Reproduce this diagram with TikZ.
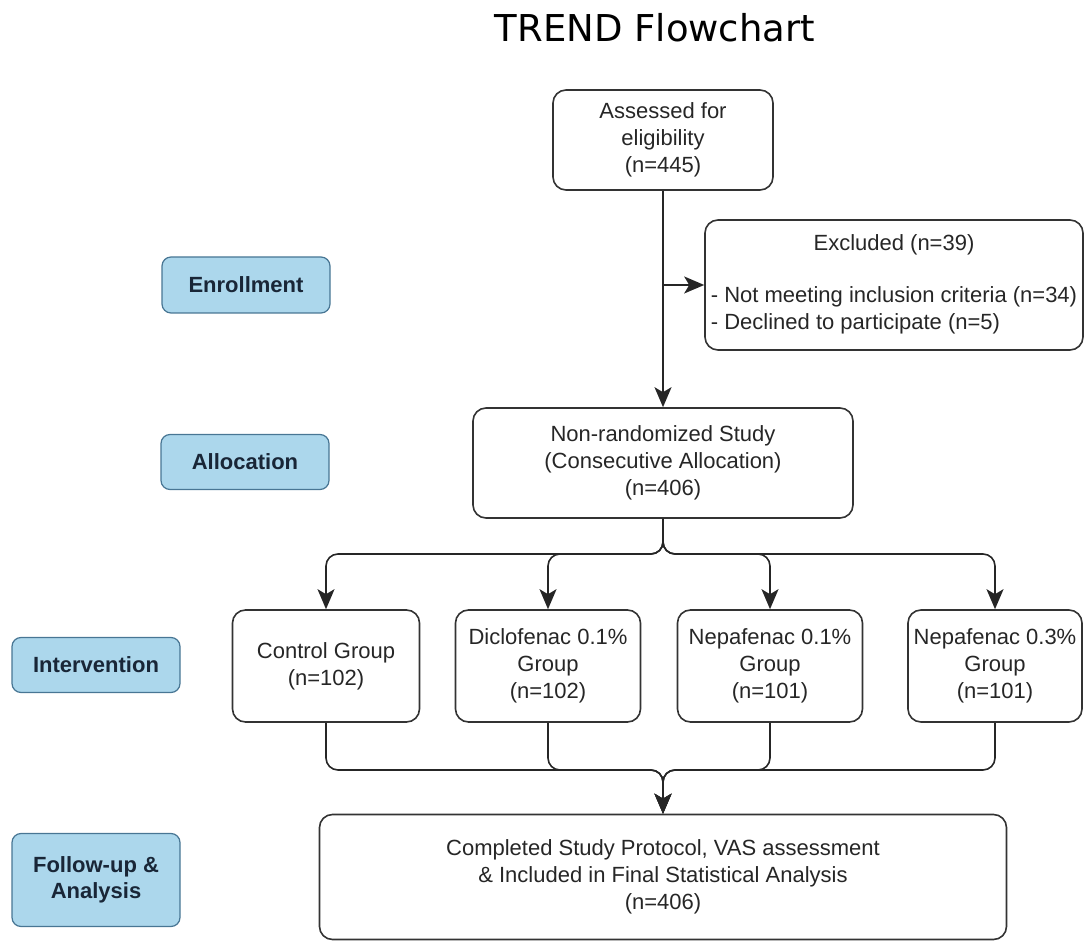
\documentclass[tikz,border=0pt]{standalone}
\usepackage{fontspec}
\setmainfont{Liberation Sans}
\newfontfamily\titlefont{DejaVu Sans}
\usetikzlibrary{arrows.meta, positioning, calc}

\definecolor{stagefill}{RGB}{172,215,236}
\definecolor{stageedge}{RGB}{72,118,148}
\definecolor{stagetext}{RGB}{25,38,55}

\tikzset{
    box/.style={draw=black!80, line width=1.6pt, rounded corners=13pt, align=center,
        inner sep=0pt, text=black!85, font=\fontsize{22}{27}\selectfont},
    stage/.style={draw=stageedge, fill=stagefill, line width=1.2pt, rounded corners=9pt,
        align=center, inner sep=0pt, text=stagetext, minimum width=168pt,
        font=\fontsize{22}{26}\selectfont\bfseries},
    arrow/.style={draw=black!85, line width=1.6pt, -{Stealth[length=20pt,width=17pt,inset=5pt]}}
}

\begin{document}
\begin{tikzpicture}[x=1pt, y=1pt]
    \useasboundingbox (0,0) rectangle (1084,943);

    % title
    \node[anchor=base] (title) at (655,901) {\titlefont\fontsize{37}{40}\selectfont TREND Flowchart};

    % stages
    \node[stage, minimum height=56pt] (enroll) at (246,658) {Enrollment};
    \node[stage, minimum height=55pt] (alloc) at (245,481) {Allocation};
    \node[stage, minimum height=55pt] (interv) at (96,278) {Intervention};
    \node[stage, minimum height=93pt] (follow) at (96,63) {Follow-up \&\\Analysis};

    % main flow
    \node[box, minimum width=220pt, minimum height=100pt] (assessed) at (663,803)
        {Assessed for\\eligibility\\(n=445)};
    \node[box, minimum width=378pt, minimum height=130pt] (excluded) at (894,658)
        {\begin{tabular}{@{}l@{}}
            \multicolumn{1}{c}{Excluded (n=39)}\\[25pt]
            - Not meeting inclusion criteria (n=34)\\
            - Declined to participate (n=5)
        \end{tabular}};
    \node[box, minimum width=380pt, minimum height=110pt] (nonrand) at (663,480)
        {Non-randomized Study\\(Consecutive Allocation)\\(n=406)};

    % groups
    \node[box, minimum width=187pt, minimum height=112pt] (ctrl) at (326,277)
        {Control Group\\(n=102)};
    \node[box, minimum width=185pt, minimum height=112pt] (diclo) at (548,277)
        {Diclofenac 0.1\%\\Group\\(n=102)};
    \node[box, minimum width=185pt, minimum height=112pt] (nepa1) at (770,277)
        {Nepafenac 0.1\%\\Group\\(n=101)};
    \node[box, minimum width=174pt, minimum height=112pt] (nepa3) at (995,277)
        {Nepafenac 0.3\%\\Group\\(n=101)};

    \node[box, minimum width=687pt, minimum height=125pt] (final) at (663,66)
        {Completed Study Protocol, VAS assessment\\\& Included in Final Statistical Analysis\\(n=406)};

    % connectors
    \draw[arrow] (assessed) -- (nonrand);
    \coordinate (exclin) at (assessed.south |- excluded.west);
    \draw[arrow] (exclin) -- (excluded);

    \coordinate (split) at (663,389);
    \coordinate (merge) at (663,173);
    \foreach \g in {ctrl, diclo, nepa1, nepa3} {
        \draw[arrow, rounded corners=12pt] (nonrand.south) -- (split) -| (\g.north);
        \draw[arrow, rounded corners=12pt] (\g.south) |- (merge) -- (final.north);
    }
\end{tikzpicture}
\end{document}
